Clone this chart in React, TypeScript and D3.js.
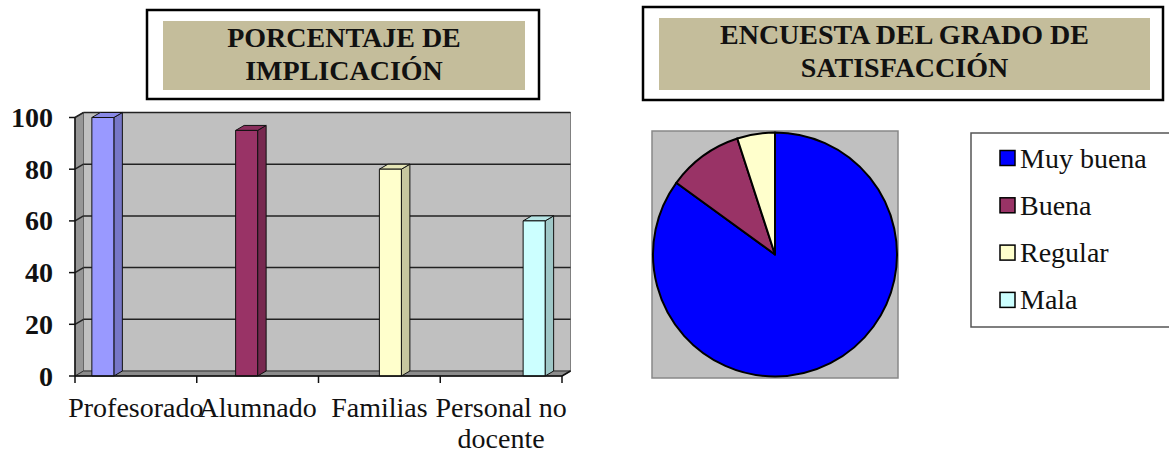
import React from "react";
import * as d3 from "d3";

const barCategories = ["Profesorado", "Alumnado", "Familias", "Personal no docente"];
const barValues = [100, 95, 80, 60];
const barColors = ["#9999FF", "#993366", "#FFFFCC", "#CCFFFF"];
const yTicks = [0, 20, 40, 60, 80, 100];
const barTitleLines = ["PORCENTAJE DE", "IMPLICACIÓN"];

const pieLabels = ["Muy buena", "Buena", "Regular", "Mala"];
const pieValues = [85, 10, 5, 0];
const pieColors = ["#0000FF", "#993366", "#FFFFCC", "#CCFFFF"];
const pieTitleLines = ["ENCUESTA DEL GRADO DE", "SATISFACCIÓN"];

const SERIF = '"Liberation Serif", "Times New Roman", Tinos, "DejaVu Serif", serif';

function measure(text: string, font: string): number {
  const c = document.createElement("canvas").getContext("2d");
  if (!c) return text.length * 12;
  c.font = font;
  return c.measureText(text).width;
}

function wrap(text: string, width: number, font: string): string[] {
  const words = text.split(" ");
  const lines: string[] = [];
  let cur = "";
  words.forEach((w) => {
    const t = cur ? cur + " " + w : w;
    if (cur && measure(t, font) > width) {
      lines.push(cur);
      cur = w;
    } else cur = t;
  });
  if (cur) lines.push(cur);
  return lines;
}

const serifStyle: React.CSSProperties = { fontFamily: SERIF };

function TitleBox({ x0, x1, y0, y1, ix0, ix1, iy0, iy1, lines, baselines }: any) {
  return (
    <g>
      <rect x={x0} y={y0} width={x1 - x0} height={y1 - y0} fill="#fff" stroke="#000" strokeWidth={2.5} />
      <rect x={ix0} y={iy0} width={ix1 - ix0} height={iy1 - iy0} fill="#C4BD9B" />
      {lines.map((l: string, i: number) => (
        <text key={i} x={(ix0 + ix1) / 2} y={baselines[i]} textAnchor="middle" style={{ ...serifStyle, fontWeight: "bold", fontSize: "28px" }} fill="#111">
          {l}
        </text>
      ))}
    </g>
  );
}

export default function App() {
  // Bar chart geometry
  const left = 75, right = 562, yBase = 376, yTop = 117.5;
  const DX = 8.5, DY = -5;
  const y = d3.scaleLinear().domain([0, 100]).range([yBase, yTop]);
  const xBand = d3.scaleBand<string>().domain(barCategories).range([left, right]).padding(0);
  const xInner = d3.scaleBand<string>().domain(barCategories).range([0, xBand.bandwidth()]).paddingInner(0).paddingOuter(0.767);
  const catFont = `28px ${SERIF}`;

  // Pie geometry
  const cx = 775, cy = 254.5, r = 122;
  const pie = d3.pie<number>().sort(null).value((d) => d);
  const arcs = pie(pieValues);
  const arcGen = d3.arc<d3.PieArcDatum<number>>().innerRadius(0).outerRadius(r);

  return (
    <svg width={1169} height={454} style={{ position: "absolute", left: 0, top: 0, background: "#fff" }}>
      <TitleBox x0={147} x1={539} y0={10} y1={99} ix0={163} ix1={525} iy0={21} iy1={90} lines={barTitleLines} baselines={[47, 80]} />
      <TitleBox x0={643} x1={1163} y0={7} y1={100} ix0={659} ix1={1150} iy0={18} iy1={90} lines={pieTitleLines} baselines={[44, 77]} />

      {/* 3D walls */}
      <rect x={left + DX} y={yTop + DY} width={right - left} height={yBase - yTop} fill="#C0C0C0" stroke="#808080" strokeWidth={1} />
      <polygon
        points={`${left},${yBase} ${left},${yTop} ${left + DX},${yTop + DY} ${left + DX},${yBase + DY}`}
        fill="#969696" stroke="#666" strokeWidth={1}
      />
      {/* gridlines */}
      {yTicks.filter((t) => t > 0).map((t) => (
        <g key={t}>
          <line x1={left + DX} x2={right + DX} y1={y(t) + DY} y2={y(t) + DY} stroke="#222" strokeWidth={1.5} />
          <line x1={left} x2={left + DX} y1={y(t)} y2={y(t) + DY} stroke="#222" strokeWidth={1.5} />
        </g>
      ))}
      {/* floor */}
      <polygon
        points={`${left},${yBase} ${right},${yBase} ${right + DX},${yBase + DY} ${left + DX},${yBase + DY}`}
        fill="#8C8C8C" stroke="#333" strokeWidth={1}
      />

      {/* bars */}
      {barCategories.map((c, i) => {
        const x = (xBand(c) as number) + (xInner(c) as number);
        const w = xInner.bandwidth();
        const yv = y(barValues[i]);
        const col = d3.color(barColors[i]) as d3.RGBColor;
        const side = col.darker(0.7).formatHex();
        const top = col.darker(0.3).formatHex();
        return (
          <g key={c} stroke="#111" strokeWidth={1} strokeLinejoin="round">
            <polygon points={`${x + w},${yv} ${x + w + DX},${yv + DY} ${x + w + DX},${yBase + DY} ${x + w},${yBase}`} fill={side} />
            <polygon points={`${x},${yv} ${x + DX},${yv + DY} ${x + w + DX},${yv + DY} ${x + w},${yv}`} fill={top} />
            <rect x={x} y={yv} width={w} height={yBase - yv} fill={barColors[i]} />
          </g>
        );
      })}

      {/* axes */}
      <line x1={left} x2={left} y1={yTop} y2={yBase} stroke="#111" strokeWidth={1.5} />
      <line x1={left} x2={right} y1={yBase} y2={yBase} stroke="#111" strokeWidth={1.5} />
      <line x1={right} x2={right + DX} y1={yBase} y2={yBase + DY} stroke="#111" strokeWidth={1.5} />
      {yTicks.map((t) => (
        <g key={t}>
          <line x1={left - 6} x2={left} y1={y(t)} y2={y(t)} stroke="#111" strokeWidth={1.5} />
          <text x={53} y={y(t)} dy="0.34em" textAnchor="end" style={{ ...serifStyle, fontWeight: "bold", fontSize: "28px" }} fill="#111">
            {t}
          </text>
        </g>
      ))}
      {[...barCategories.map((c) => xBand(c) as number), right].map((xv, i) => (
        <line key={i} x1={xv} x2={xv} y1={yBase} y2={yBase + 7} stroke="#111" strokeWidth={1.5} />
      ))}
      {barCategories.map((c) => {
        const lines = wrap(c, xBand.bandwidth() * 1.15, catFont);
        const xc = (xBand(c) as number) + xBand.bandwidth() / 2;
        return (
          <text key={c} textAnchor="middle" style={{ ...serifStyle, fontSize: "28px" }} fill="#111">
            {lines.map((l, j) => (
              <tspan key={j} x={xc} y={417 + j * 31}>
                {l}
              </tspan>
            ))}
          </text>
        );
      })}

      {/* pie */}
      <rect x={652} y={131} width={246} height={247} fill="#C0C0C0" stroke="#888" strokeWidth={1.5} />
      <g transform={`translate(${cx},${cy})`}>
        {arcs.filter((a) => a.value > 0).map((a, i) => (
          <path key={i} d={arcGen(a) as string} fill={pieColors[a.index]} stroke="#000" strokeWidth={2} strokeLinejoin="round" />
        ))}
      </g>

      {/* legend */}
      <rect x={971} y={133} width={220} height={194} fill="#fff" stroke="#555" strokeWidth={1.5} />
      {pieLabels.map((l, i) => {
        const yy = 158 + i * 47.3;
        return (
          <g key={l}>
            <rect x={1000} y={yy - 7.5} width={15} height={15} fill={pieColors[i]} stroke="#000" strokeWidth={1.5} />
            <text x={1020} y={yy} dy="0.34em" style={{ ...serifStyle, fontSize: "28px" }} fill="#111">
              {l}
            </text>
          </g>
        );
      })}
    </svg>
  );
}
